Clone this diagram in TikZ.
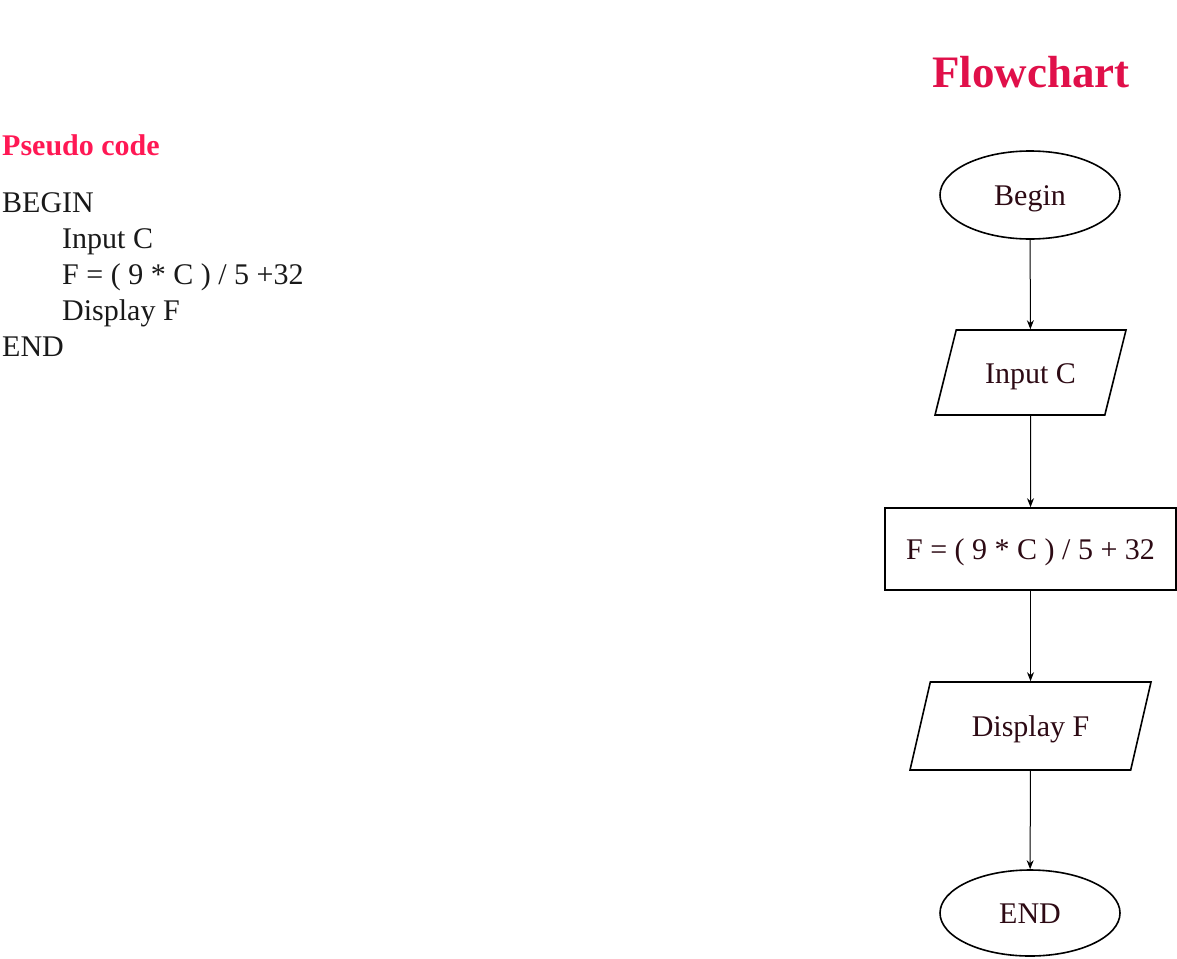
\documentclass[tikz,border=0pt]{standalone}
\usepackage{fontspec}
\setmainfont{Liberation Serif}
\usetikzlibrary{arrows.meta, shapes.geometric}
\usepackage{xcolor}
\definecolor{titlered}{RGB}{224,16,74}
\definecolor{pseudored}{RGB}{255,24,84}
\definecolor{nodetext}{RGB}{45,10,20}
\tikzset{terminalnode/.style={ellipse, draw=black, line width=1.6pt, minimum width=180pt, minimum height=88pt, inner sep=0pt, font=\fontsize{30}{36}\selectfont, text=nodetext, text height=21pt, text depth=0pt},processnode/.style={rectangle, draw=black, line width=1.6pt, minimum width=291pt, minimum height=82pt, inner sep=0pt, font=\fontsize{30}{36}\selectfont, text=nodetext, text height=21pt, text depth=0pt}}
\tikzset{ionode/.style={trapezium, trapezium stretches body, draw=black, line width=1.6pt, inner xsep=0pt, font=\fontsize{30}{36}\selectfont, text=nodetext, text height=21pt, text depth=0pt},codeline/.style={anchor=base west, inner sep=0pt, font=\fontsize{30}{36}\selectfont, text=black!90}}

\begin{document}
\begin{tikzpicture}[
        x=1pt, y=-1pt,
        flowarrow/.style={-{Stealth[length=9pt, width=7pt]}, line width=1pt}
    ]
        \useasboundingbox (0, 0) rectangle (1177, 958);
        % Titles
        \node[anchor=base, inner sep=0pt, font=\fontsize{45}{52}\selectfont\bfseries, text=titlered] (flowtitle) at (1031, 87) {Flowchart};
        \node[anchor=base west, inner sep=0pt, font=\fontsize{30}{36}\selectfont\bfseries, text=pseudored] (pseudotitle) at (2, 155) {Pseudo code};
        % Pseudo code
        \node[codeline] (pcbegin) at (2, 212) {BEGIN};
        \node[codeline] (pcinput) at (62, 248) {Input C};
        \node[codeline] (pcformula) at (62, 284) {F = ( 9 * C ) / 5 +32};
        \node[codeline] (pcdisplay) at (62, 320) {Display F};
        \node[codeline] (pcend) at (2, 356) {END};
        % Flowchart nodes
        \node[terminalnode] (begin) at (1030, 195) {Begin};
        \node[ionode, trapezium left angle=76, trapezium right angle=104, minimum width=191pt, inner ysep=32pt] (input) at (1030.5, 372.5) {Input C};
        \node[processnode] (formula) at (1030.5, 549) {F = ( 9 * C ) / 5 + 32};
        \node[ionode, trapezium left angle=77, trapezium right angle=103, minimum width=241pt, inner ysep=33.5pt] (display) at (1030.5, 726) {Display F};
        \node[terminalnode, minimum height=86pt] (end) at (1030, 913) {END};
        % Connectors
        \draw[flowarrow] (begin) -- (input);
        \draw[flowarrow] (input) -- (formula);
        \draw[flowarrow] (formula) -- (display);
        \draw[flowarrow] (display) -- (end);
    \end{tikzpicture}
\end{document}
